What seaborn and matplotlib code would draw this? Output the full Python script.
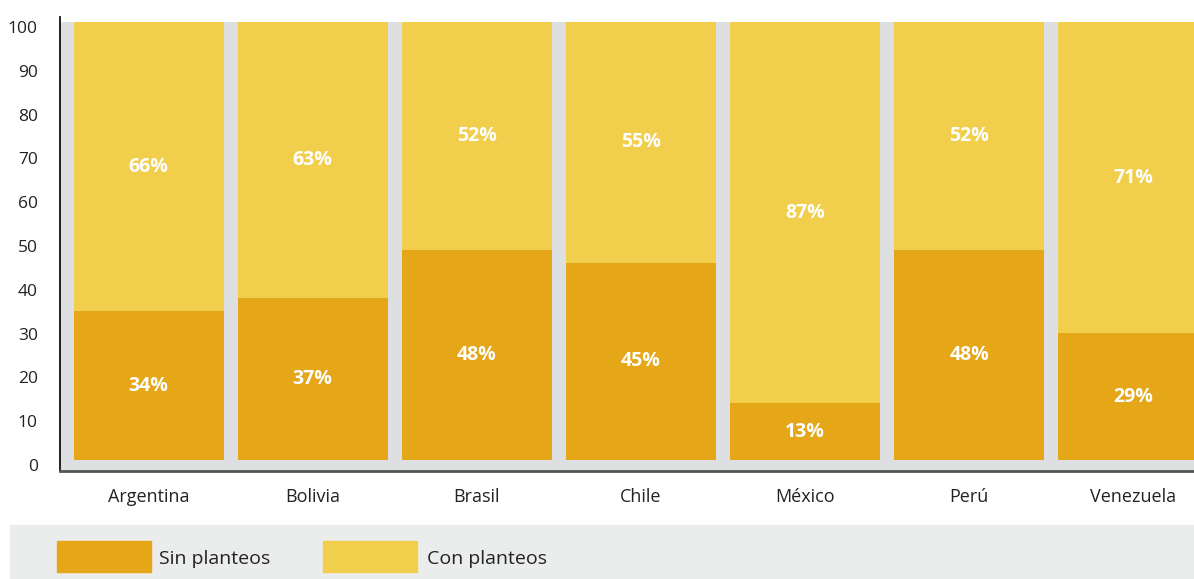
import matplotlib
matplotlib.use("Agg")
import matplotlib.pyplot as plt
import matplotlib.transforms as mtransforms
from matplotlib.patches import Rectangle
import seaborn as sns
import pandas as pd

# values
paises = ["Argentina", "Bolivia", "Brasil", "Chile", "México", "Perú", "Venezuela"]
sin_planteos = [34, 37, 48, 45, 13, 48, 29]
con_planteos = [66, 63, 52, 55, 87, 52, 71]
y_ticks = [0, 10, 20, 30, 40, 50, 60, 70, 80, 90, 100]

col_sin = "#E5A617"
col_con = "#F2CE4D"

sns.set_theme(style="white")
plt.rcParams["font.family"] = ["Open Sans", "DejaVu Sans"]

df = pd.DataFrame({"pais": paises, "sin": sin_planteos, "con": con_planteos})
df["total"] = df["sin"] + df["con"]

fig = plt.figure(figsize=(11.94, 5.79), dpi=100)
ax = fig.add_axes([60 / 1194, 1 - 471 / 579, 1 - 60 / 1194, (471 - 17) / 579])

# grey background behind the bars (the soft shadow of the original)
ax.axhspan(-2.5, 100, color="#DEDFE1", zorder=0, linewidth=0)

sns.barplot(data=df, x="pais", y="total", color=col_con, width=0.915,
            saturation=1, ax=ax, zorder=2, linewidth=0)
sns.barplot(data=df, x="pais", y="sin", color=col_sin, width=0.915,
            saturation=1, ax=ax, zorder=3, linewidth=0)

for i, row in df.iterrows():
    ax.text(i, row["sin"] / 2, f"{row['sin']}%", ha="center", va="center",
            color="white", fontsize=14, fontweight="bold", zorder=5)
    ax.text(i, row["sin"] + row["con"] / 2, f"{row['con']}%", ha="center",
            va="center", color="white", fontsize=14, fontweight="bold", zorder=5)

ax.set_xlim(-0.54, 6.37)
ax.set_ylim(-2.5, 101.15)
ax.set_yticks(y_ticks)
ax.set_xlabel("")
ax.set_ylabel("")
ax.tick_params(axis="y", length=0, pad=16, labelsize=12.5, labelcolor="#222222")
ax.tick_params(axis="x", length=0, pad=12, labelsize=13, labelcolor="#222222")
# the tick labels sit a few pixels below the bar bottoms in the original
shift = mtransforms.ScaledTranslation(0, -5 / 100, fig.dpi_scale_trans)
for lab in ax.get_yticklabels():
    lab.set_horizontalalignment("right")
    lab.set_transform(lab.get_transform() + shift)

sns.despine(ax=ax, top=True, right=True)
ax.spines["left"].set_color("#111111")
ax.spines["left"].set_linewidth(1.3)
ax.spines["bottom"].set_color("#555555")
ax.spines["bottom"].set_linewidth(2)

# legend band
fig.patches.append(Rectangle((10 / 1194, 0), 1 - 10 / 1194, 54 / 579,
                             transform=fig.transFigure, color="#EBECEC", zorder=0))
fig.patches.append(Rectangle((57 / 1194, 7 / 579), 94 / 1194, 31 / 579,
                             transform=fig.transFigure, color=col_sin, zorder=1))
fig.patches.append(Rectangle((323 / 1194, 7 / 579), 94 / 1194, 31 / 579,
                             transform=fig.transFigure, color=col_con, zorder=1))
fig.text(159 / 1194, 20 / 579, "Sin planteos", fontsize=14, color="#222222",
         va="center", ha="left")
fig.text(427 / 1194, 20 / 579, "Con planteos", fontsize=14, color="#222222",
         va="center", ha="left")

fig.savefig("out.png", dpi=100)
